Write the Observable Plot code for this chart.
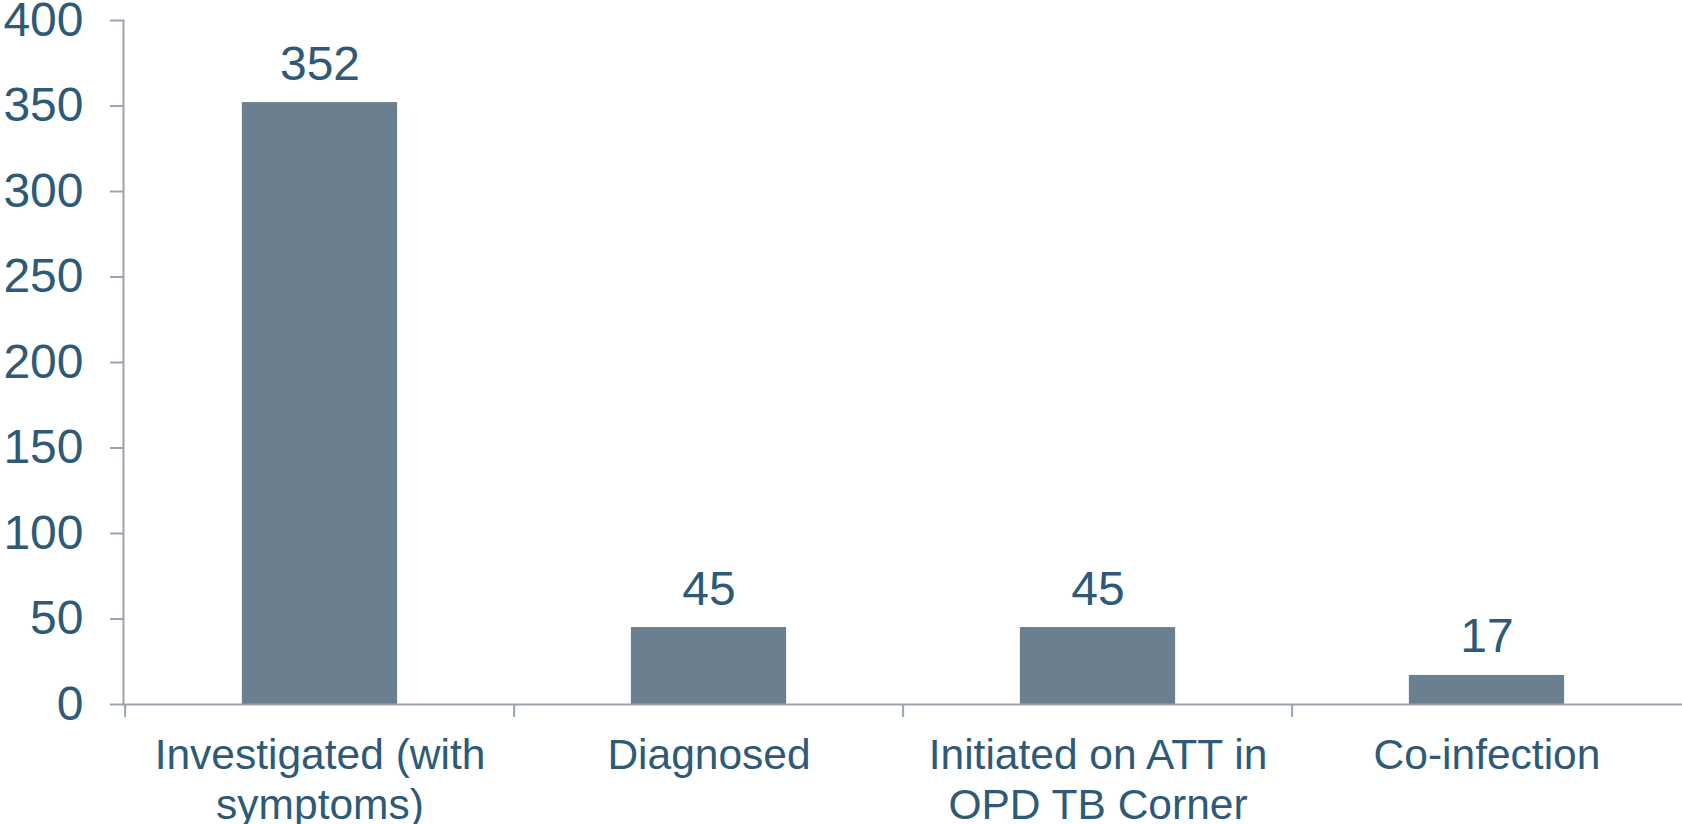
<!DOCTYPE html>
<html>
<head>
<meta charset="utf-8">
<script src="https://cdn.jsdelivr.net/npm/d3@7"></script>
<script src="https://cdn.jsdelivr.net/npm/@observablehq/plot@0.6"></script>
<style>
  html, body { margin: 0; padding: 0; background: #fff; }
  #chart svg { display: block; }
</style>
</head>
<body>
<div id="chart"></div>
<script>
const categories = ["Investigated (with\nsymptoms)", "Diagnosed", "Initiated on ATT in\nOPD TB Corner", "Co-infection"];
const values = [352, 45, 45, 17];
const yTicks = [0, 50, 100, 150, 200, 250, 300, 350, 400];

const data = categories.map((c, i) => ({category: c, value: values[i]}));

const W = 1682, H = 824;
const mL = 123, mR = 0, mT = 20, mB = 120;
const band = (W - mL - mR) / categories.length;
const barW = 156;
const inset = (band - barW) / 2;
const textColor = "#2e5a78";
const axisColor = "#9ba4ae";
const barColor = "#6b7f8e";
const font = "'Liberation Sans', Arial, sans-serif";
const tickUnits = 13 * 400 / (H - mT - mB);

const chart = Plot.plot({
  width: W,
  height: H,
  marginLeft: mL,
  marginRight: mR,
  marginTop: mT,
  marginBottom: mB,
  style: {fontFamily: font, color: textColor, background: "#fff", overflow: "visible"},
  x: {domain: categories, padding: 0, axis: null},
  y: {domain: [0, 400], axis: null},
  marks: [
    Plot.barY(data, {x: "category", y: "value", fill: barColor, insetLeft: inset, insetRight: inset}),
    Plot.frame({anchor: "left", stroke: axisColor, strokeWidth: 2}),
    Plot.ruleY([0], {stroke: axisColor, strokeWidth: 2}),
    Plot.ruleX(categories, {x: d => d, y1: 0, y2: -tickUnits, dx: -band / 2, stroke: axisColor, strokeWidth: 2}),
    Plot.axisY({ticks: yTicks, label: null, tickSize: 13, tickPadding: 27, fontSize: 48, stroke: axisColor, strokeWidth: 2, fill: textColor, tickFormat: d => String(d)}),
    Plot.axisX({label: null, tickSize: 0, tickPadding: 29, fontSize: 42.5, lineHeight: 1.17, fill: textColor, tickFormat: d => d}),
    Plot.text(data, {x: "category", y: "value", text: d => String(d.value), dy: -23, lineAnchor: "bottom", fontSize: 48, fill: textColor})
  ]
});
document.getElementById("chart").appendChild(chart);
</script>
</body>
</html>
